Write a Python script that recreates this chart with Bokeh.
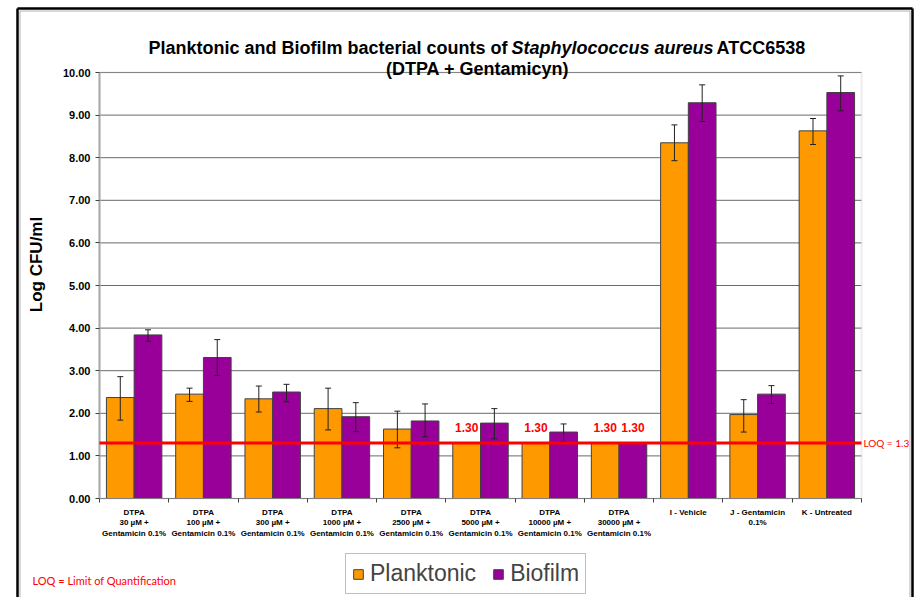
import math
from bokeh.plotting import figure
from bokeh.models import (Range1d, FixedTicker, NumeralTickFormatter, Label, LabelSet,
                          ColumnDataSource, Whisker, TeeHead, Legend, LegendItem, BoxAnnotation)
from bokeh.core.properties import value
from bokeh.embed import file_html
from bokeh.resources import INLINE

# ---------------- data ----------------
categories = [
    "DTPA\n30 µM +\nGentamicin 0.1%",
    "DTPA\n100 µM +\nGentamicin 0.1%",
    "DTPA\n300 µM +\nGentamicin 0.1%",
    "DTPA\n1000 µM +\nGentamicin 0.1%",
    "DTPA\n2500 µM +\nGentamicin 0.1%",
    "DTPA\n5000 µM +\nGentamicin 0.1%",
    "DTPA\n10000 µM +\nGentamicin 0.1%",
    "DTPA\n30000 µM +\nGentamicin 0.1%",
    "I - Vehicle",
    "J - Gentamicin\n0.1%",
    "K - Untreated",
]
planktonic = [2.37, 2.45, 2.34, 2.11, 1.63, 1.30, 1.30, 1.30, 8.35, 1.97, 8.63]
planktonic_lo = [1.84, 2.28, 2.03, 1.61, 1.19, None, None, None, 7.93, 1.56, 8.31]
planktonic_hi = [2.86, 2.59, 2.64, 2.59, 2.05, None, None, None, 8.77, 2.32, 8.92]
biofilm = [3.84, 3.31, 2.50, 1.92, 1.82, 1.77, 1.56, 1.30, 9.29, 2.45, 9.53]
biofilm_lo = [3.69, 2.89, 2.27, 1.57, 1.45, 1.40, 1.34, None, 8.85, 2.23, 9.10]
biofilm_hi = [3.96, 3.73, 2.68, 2.25, 2.22, 2.11, 1.75, None, 9.71, 2.65, 9.92]
loq_value = 1.3
y_min, y_max = 0, 10
y_ticks = [0, 1, 2, 3, 4, 5, 6, 7, 8, 9, 10]

ORANGE = "#FF9900"
PURPLE = "#990099"
FONT = "Liberation Sans"
NOTE_FONT = "Lato"

n = len(categories)
centers = [i + 0.5 for i in range(n)]
boundaries = list(range(n + 1))
bar_w = 0.40
x_p = [i + 0.30 for i in range(n)]
x_b = [i + 0.70 for i in range(n)]

# ---------------- layout geometry (page pixels) ----------------
CANVAS_W, CANVAS_H = 918, 597
PA_LEFT, PA_RIGHT, PA_TOP, PA_BOTTOM = 99, 861, 72, 498

x_per_px = n / (PA_RIGHT - PA_LEFT)
y_per_px = (y_max - y_min) / (PA_BOTTOM - PA_TOP)
x_start = 0 - PA_LEFT * x_per_px
x_end = n + (CANVAS_W - PA_RIGHT) * x_per_px
y_end = y_max + PA_TOP * y_per_px
y_start = y_min - (CANVAS_H - PA_BOTTOM) * y_per_px


def sx(px):
    return px


def sy(py):
    return CANVAS_H - py


def dx(px):
    return (px - PA_LEFT) * x_per_px


def dy(py):
    return y_min + (PA_BOTTOM - py) * y_per_px


p = figure(width=CANVAS_W, height=CANVAS_H, x_range=Range1d(x_start, x_end),
           y_range=Range1d(y_start, y_end), output_backend="svg", toolbar_location=None,
           min_border=0, min_border_left=0, min_border_right=0, min_border_top=0,
           min_border_bottom=0)
p.background_fill_color = "white"
p.border_fill_color = "white"
p.outline_line_color = None
p.xgrid.visible = False
p.ygrid.visible = False

# outer black frame of the picture (open at the bottom, as in the cropped original)
p.multi_line(xs=[[dx(17), dx(17)], [dx(17), dx(912)], [dx(912), dx(912)]],
             ys=[[dy(640), dy(8)], [dy(8), dy(8)], [dy(8), dy(640)]],
             line_color="black", line_width=2.5, level="overlay")
p.multi_line(xs=[[dx(19.5), dx(19.5)], [dx(19.5), dx(909.5)], [dx(909.5), dx(909.5)]],
             ys=[[dy(640), dy(10.5)], [dy(10.5), dy(10.5)], [dy(10.5), dy(640)]],
             line_color="#b0b0b0", line_width=1, level="overlay")

# plot area border and horizontal grid lines
p.add_layout(BoxAnnotation(left=0, right=n, bottom=y_min, top=y_max, fill_alpha=0,
                           line_color="#c4c4c4", line_width=2, level="underlay"))
p.segment(x0=[0] * len(y_ticks), x1=[n] * len(y_ticks), y0=y_ticks, y1=y_ticks,
          line_color="#6a6a6a", line_width=1, level="underlay")

# y axis
ya = p.yaxis[0]
ya.fixed_location = 0
ya.bounds = (y_min, y_max)
ya.ticker = FixedTicker(ticks=y_ticks)
ya.formatter = NumeralTickFormatter(format="0.00")
ya.axis_line_color = "#a8a8a8"
ya.axis_line_width = 2
ya.major_tick_in = 0
ya.major_tick_out = 4
ya.major_tick_line_color = "#404040"
ya.minor_tick_line_color = None
ya.major_label_standoff = 5
ya.major_label_text_font = FONT
ya.major_label_text_font_style = "bold"
ya.major_label_text_font_size = "11px"
ya.major_label_text_color = "black"

# x axis
xa = p.xaxis[0]
xa.fixed_location = 0
xa.bounds = (0, n)
xa.ticker = FixedTicker(ticks=centers, minor_ticks=boundaries)
xa.major_label_overrides = {c: lab for c, lab in zip(centers, categories)}
xa.axis_line_color = "#808080"
xa.axis_line_width = 1
xa.major_tick_in = 0
xa.major_tick_out = 0
xa.major_tick_line_color = None
xa.minor_tick_in = 0
xa.minor_tick_out = 4
xa.minor_tick_line_color = "#404040"
xa.major_label_standoff = 5
xa.major_label_text_font = FONT
xa.major_label_text_font_style = "bold"
xa.major_label_text_font_size = "8px"
xa.major_label_text_color = "black"

# bars
rp = p.vbar(x=x_p, top=planktonic, width=bar_w, bottom=0, fill_color=ORANGE,
            line_color="#404040", line_width=1)
rb = p.vbar(x=x_b, top=biofilm, width=bar_w, bottom=0, fill_color=PURPLE,
            line_color="#404040", line_width=1)


# error bars
def err_source(xs, lo, hi):
    d = {"x": [], "lo": [], "hi": []}
    for x, l, h in zip(xs, lo, hi):
        if l is not None and h is not None:
            d["x"].append(x)
            d["lo"].append(l)
            d["hi"].append(h)
    return ColumnDataSource(d)


for xs, lo, hi in [(x_p, planktonic_lo, planktonic_hi), (x_b, biofilm_lo, biofilm_hi)]:
    w = Whisker(source=err_source(xs, lo, hi), base="x", upper="hi", lower="lo",
                line_color="#222222", line_width=1, level="annotation",
                upper_head=TeeHead(size=6, line_color="#222222", line_width=1),
                lower_head=TeeHead(size=6, line_color="#222222", line_width=1))
    p.add_layout(w)

# LOQ line
p.segment(x0=[0], x1=[n], y0=[loq_value], y1=[loq_value], line_color="#FF0000",
          line_width=3, level="overlay")
p.add_layout(Label(x=n, y=loq_value, x_offset=2, text="LOQ = 1.3", text_color="#FF0000",
                   text_font=NOTE_FONT, text_font_size="10px", text_baseline="middle",
                   text_align="left"))

# "1.30" labels for values at LOQ
lx, ly, lt = [], [], []
for xs, vals in [(x_p, planktonic), (x_b, biofilm)]:
    for x, v in zip(xs, vals):
        if abs(v - loq_value) < 1e-9:
            lx.append(x)
            ly.append(v)
            lt.append(f"{v:.2f}")
p.add_layout(LabelSet(source=ColumnDataSource({"x": lx, "y": ly, "t": lt}), x="x", y="y",
                      text="t", y_offset=11, text_align="center", text_baseline="alphabetic",
                      text_color="#FF0000", text_font=value(FONT), text_font_style="bold",
                      text_font_size="12px"))

# title pieces
tkw = dict(x_units="screen", y_units="screen", text_font=FONT, text_font_size="18px",
           text_font_style="bold", text_baseline="alphabetic", text_color="black")
p.add_layout(Label(x=sx(507), y=sy(47), text="Planktonic and Biofilm bacterial counts of",
                   text_align="right", **tkw))
tkw_i = dict(tkw)
tkw_i["text_font_style"] = "bold italic"
p.add_layout(Label(x=sx(511), y=sy(47), text="Staphylococcus aureus", text_align="left",
                   **tkw_i))
p.add_layout(Label(x=sx(716), y=sy(47), text="ATCC6538", text_align="left", **tkw))
p.add_layout(Label(x=sx(477), y=sy(68), text="(DTPA + Gentamicyn)", text_align="center",
                   **tkw))

# y axis title
p.add_layout(Label(x=sx(36), y=sy(264), x_units="screen", y_units="screen",
                   text="Log CFU/ml", angle=math.pi / 2, text_align="center",
                   text_baseline="middle", text_font=FONT, text_font_size="17px",
                   text_font_style="bold", text_color="black"))

# footnote
p.add_layout(Label(x=sx(32), y=sy(580), x_units="screen", y_units="screen",
                   text="LOQ = Limit of Quantification", text_color="#FF0000",
                   text_font=NOTE_FONT, text_font_size="11px", text_baseline="middle",
                   text_align="left"))

# legend
legend = Legend(items=[LegendItem(label="Planktonic", renderers=[rp]),
                       LegendItem(label="Biofilm", renderers=[rb])],
                location=(sx(345), sy(594)), orientation="horizontal", margin=0, padding=6,
                spacing=16, label_standoff=6, glyph_width=12, glyph_height=12,
                label_text_font=FONT, label_text_font_size="23px",
                border_line_color="#808080", border_line_width=1,
                background_fill_color="white", background_fill_alpha=1.0)
p.add_layout(legend)

open("out.html", "w").write(file_html(p, INLINE))
